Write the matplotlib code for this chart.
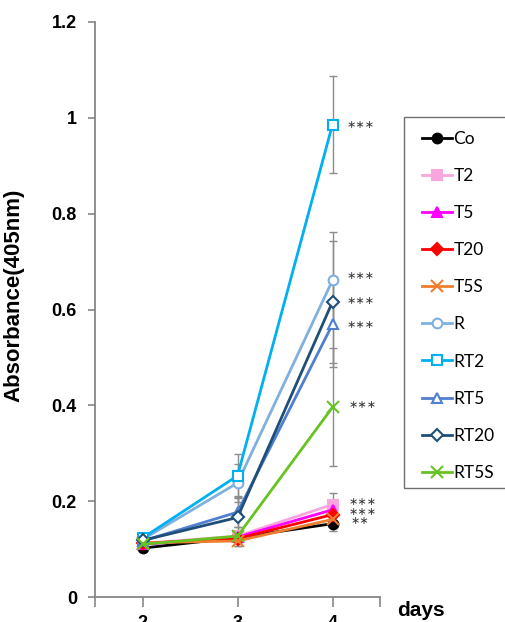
import numpy as np
import matplotlib
matplotlib.use('Agg')
import matplotlib.pyplot as plt
from matplotlib.patches import Rectangle

plt.rcParams['font.family'] = ['Liberation Sans', 'DejaVu Sans']

days = [2, 3, 4]
names = ['Co', 'T2', 'T5', 'T20', 'T5S', 'R', 'RT2', 'RT5', 'RT20', 'RT5S']
values = {
    'Co':   [0.102, 0.124, 0.153],
    'T2':   [0.112, 0.127, 0.193],
    'T5':   [0.110, 0.125, 0.182],
    'T20':  [0.112, 0.122, 0.172],
    'T5S':  [0.113, 0.117, 0.162],
    'R':    [0.120, 0.238, 0.661],
    'RT2':  [0.123, 0.253, 0.986],
    'RT5':  [0.117, 0.177, 0.569],
    'RT20': [0.118, 0.166, 0.616],
    'RT5S': [0.110, 0.127, 0.396],
}
errors = {
    'Co':   [0.004, 0.010, 0.016],
    'T2':   [0.004, 0.010, 0.024],
    'T5':   [0.004, 0.010, 0.015],
    'T20':  [0.004, 0.010, 0.015],
    'T5S':  [0.004, 0.010, 0.015],
    'R':    [0.005, 0.040, 0.100],
    'RT2':  [0.005, 0.045, 0.102],
    'RT5':  [0.005, 0.030, 0.090],
    'RT20': [0.005, 0.045, 0.128],
    'RT5S': [0.005, 0.020, 0.123],
}
colors = {
    'Co': '#000000', 'T2': '#f9a6df', 'T5': '#ff00ff', 'T20': '#ff0000',
    'T5S': '#f07d2e', 'R': '#7fb0e0', 'RT2': '#00b0f0', 'RT5': '#4f7fd0',
    'RT20': '#1f4e79', 'RT5S': '#66c322',
}
markers = {
    'Co': 'o', 'T2': 's', 'T5': '^', 'T20': 'D', 'T5S': 'x',
    'R': 'o', 'RT2': 's', 'RT5': '^', 'RT20': 'D', 'RT5S': 'x',
}
open_markers = ['R', 'RT2', 'RT5', 'RT20']

# significance marks at day 4
sig_y = [0.985, 0.669, 0.617, 0.568, 0.401, 0.198, 0.178, 0.159]
sig_text = ['∗∗∗', '∗∗∗', '∗∗∗', '∗∗∗', '∗∗∗', '∗∗∗', '∗∗∗', '∗∗']
sig_dx = [10, 10, 10, 10, 11.5, 11.5, 11.5, 13]

fig = plt.figure(figsize=(5.05, 6.22), dpi=100)
ax = fig.add_axes([95/505, 25/622, 285/505, 575/622])

for n in names:
    ax.errorbar(days, values[n], yerr=errors[n], fmt='none', ecolor='#8c8c8c',
                elinewidth=1, capsize=3, capthick=1, zorder=1)

handles = []
for n in names:
    ms = 8 if markers[n] == 'x' else (6 if markers[n] == 'D' else 7)
    face = 'white' if n in open_markers else colors[n]
    h, = ax.plot(days, values[n], color=colors[n], lw=2, marker=markers[n],
                 markersize=ms, markerfacecolor=face, markeredgecolor=colors[n],
                 markeredgewidth=1.5, zorder=3, label=n)
    handles.append(h)

for y, t, dx in zip(sig_y, sig_text, sig_dx):
    ax.annotate(t, xy=(4, y), xytext=(dx, 0), textcoords='offset points',
                va='center', ha='left', fontsize=8, color='#3a3a3a',
                family=['DejaVu Sans'])

ax.set_xlim(1.5, 4.5)
ax.set_ylim(0, 1.2)
ax.set_xticks(days)
ax.set_xticks([1.5, 4.5], minor=True)
ax.set_yticks([0, 0.2, 0.4, 0.6, 0.8, 1.0, 1.2])
ax.set_yticklabels(['0', '0.2', '0.4', '0.6', '0.8', '1', '1.2'])
for s in ['top', 'right']:
    ax.spines[s].set_visible(False)
for s in ['left', 'bottom']:
    ax.spines[s].set_color('#868686')
    ax.spines[s].set_linewidth(1.3)
ax.tick_params(axis='y', direction='out', length=5, width=1.2, color='#868686',
               labelsize=13, pad=8)
ax.tick_params(axis='x', which='both', direction='out', length=7, width=1.2,
               color='#868686', labelsize=13, pad=6)
for lab in ax.get_xticklabels() + ax.get_yticklabels():
    lab.set_fontweight('bold')

ax.set_ylabel('Absorbance(405nm)', fontsize=16, fontweight='bold')
ax.yaxis.set_label_coords(-0.249, 0.525)
fig.text(421/505, 1 - 601/622, 'days', ha='center', va='top', fontsize=15,
         fontweight='bold')

leg = fig.legend(handles=handles, loc='upper left',
                 bbox_to_anchor=(422/505, 1 - 131/622), frameon=False,
                 borderpad=0, borderaxespad=0, handlelength=1.7,
                 handletextpad=0.1, labelspacing=1.215,
                 prop={'family': 'Lato', 'size': 12.5})
fig.patches.append(Rectangle((404/505, 1 - 488/622), 0.25, 371/622,
                             transform=fig.transFigure, fill=False,
                             edgecolor='#707070', lw=1))

fig.savefig('out.png', dpi=100)
